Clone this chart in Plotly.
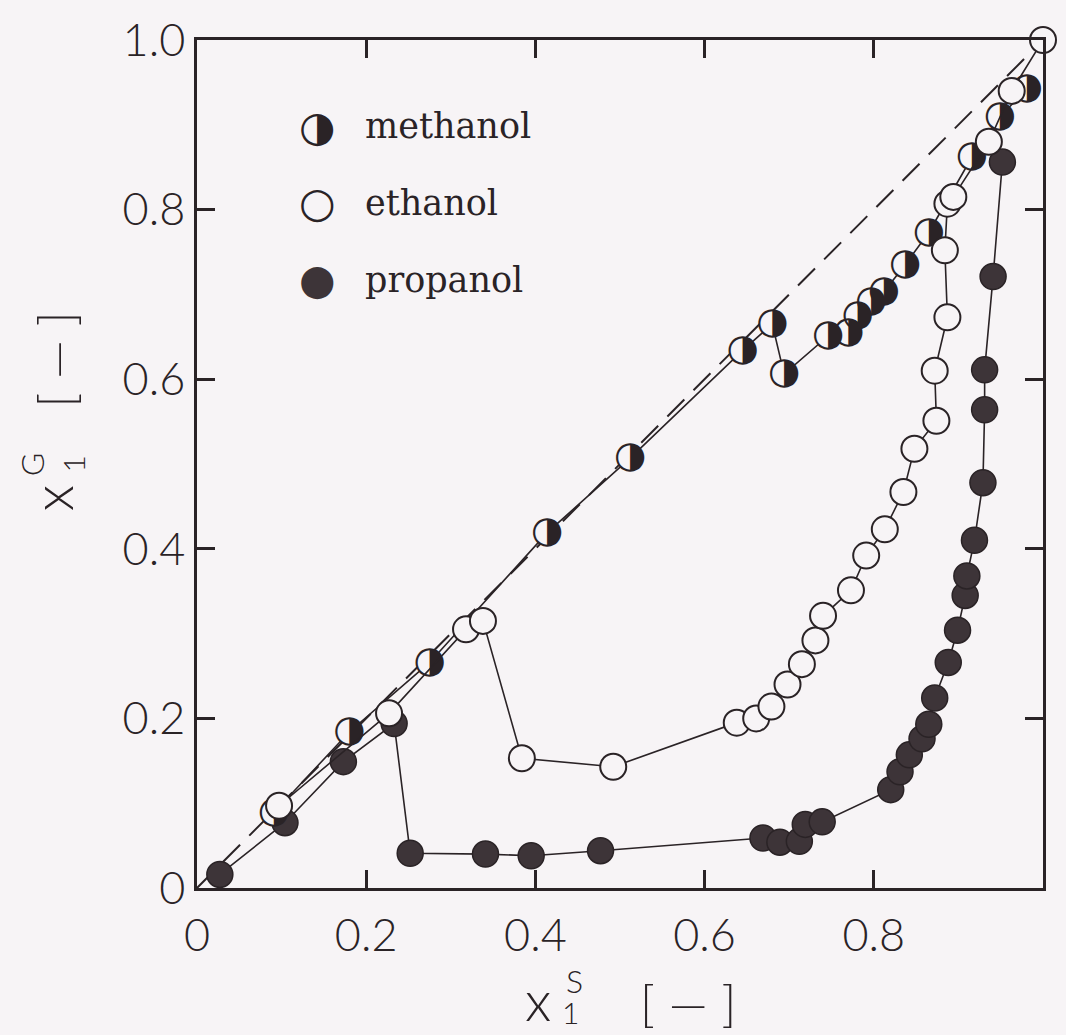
import plotly.graph_objects as go

# ---------------- data ----------------
methanol_x = [0.091, 0.180, 0.275, 0.414, 0.512, 0.645, 0.680, 0.694, 0.746, 0.770,
              0.781, 0.797, 0.812, 0.837, 0.865, 0.916, 0.949, 0.981]
methanol_y = [0.089, 0.184, 0.266, 0.419, 0.507, 0.634, 0.665, 0.606, 0.651, 0.655,
              0.675, 0.691, 0.703, 0.735, 0.773, 0.862, 0.909, 0.943]

ethanol_x = [0.097, 0.227, 0.318, 0.338, 0.384, 0.492, 0.638, 0.661, 0.679, 0.698,
             0.715, 0.731, 0.740, 0.773, 0.791, 0.813, 0.835, 0.848, 0.874, 0.872,
             0.887, 0.884, 0.887, 0.894, 0.936, 0.963, 1.000]
ethanol_y = [0.097, 0.206, 0.305, 0.315, 0.153, 0.143, 0.195, 0.200, 0.214, 0.240,
             0.264, 0.292, 0.321, 0.351, 0.392, 0.423, 0.467, 0.518, 0.551, 0.610,
             0.673, 0.752, 0.807, 0.815, 0.880, 0.940, 1.000]

propanol_x = [0.027, 0.104, 0.173, 0.233, 0.252, 0.341, 0.395, 0.477, 0.669, 0.689,
              0.712, 0.719, 0.739, 0.820, 0.831, 0.842, 0.857, 0.865, 0.872, 0.888,
              0.899, 0.908, 0.910, 0.919, 0.929, 0.931, 0.931, 0.941, 0.952]
propanol_y = [0.016, 0.077, 0.149, 0.194, 0.041, 0.040, 0.038, 0.044, 0.059, 0.054,
              0.055, 0.075, 0.078, 0.116, 0.137, 0.157, 0.176, 0.193, 0.224, 0.266,
              0.304, 0.345, 0.368, 0.410, 0.478, 0.564, 0.611, 0.721, 0.856]

diag_x = [0.0, 1.0]
diag_y = [0.0, 1.0]

tick_vals = [0, 0.2, 0.4, 0.6, 0.8, 1.0]
tick_text = ["0", "0.2", "0.4", "0.6", "0.8", "1.0"]

series_names = ["methanol", "ethanol", "propanol"]

# ---------------- style ----------------
INK = "#2a2326"
BG = "#f7f4f6"
DARK = "#3d3438"
TICKFONT = dict(family="Lato", size=45, color=INK, weight=300)

fig = go.Figure()

fig.add_trace(go.Scatter(
    x=diag_x, y=diag_y, mode="lines",
    line=dict(color=INK, width=2, dash="24px,13px"),
    cliponaxis=False, hoverinfo="skip", showlegend=False))

fig.add_trace(go.Scatter(
    x=propanol_x, y=propanol_y, mode="lines+markers", name=series_names[2],
    line=dict(color=INK, width=1.6),
    marker=dict(size=26, color=DARK, line=dict(color=INK, width=1.5)),
    cliponaxis=False, showlegend=False))

fig.add_trace(go.Scatter(
    x=methanol_x, y=methanol_y, mode="lines+markers+text", name=series_names[0],
    line=dict(color=INK, width=1.6),
    marker=dict(size=26, color=BG, line=dict(width=0)),
    text=["\u25D1"] * len(methanol_x), textposition="middle center",
    textfont=dict(family="DejaVu Sans", size=37, color=INK),
    cliponaxis=False, showlegend=False))

fig.add_trace(go.Scatter(
    x=ethanol_x, y=ethanol_y, mode="lines+markers", name=series_names[1],
    line=dict(color=INK, width=1.6),
    marker=dict(size=26, color=BG, line=dict(color=INK, width=2)),
    cliponaxis=False, showlegend=False))

axis_common = dict(
    range=[0, 1], tickvals=tick_vals, ticktext=tick_text,
    showline=True, linewidth=2.5, linecolor=INK, mirror="allticks",
    ticks="inside", ticklen=18, tickwidth=2.5, tickcolor=INK,
    showgrid=False, zeroline=False, tickfont=TICKFONT, fixedrange=True)

fig.update_xaxes(**axis_common, ticklabelstandoff=6)
fig.update_yaxes(**axis_common, ticklabelstandoff=0)

# ---------------- legend (drawn as text) ----------------
legend_symbols = ["\u25D1", "\u25CB", "\u25CF"]
legend_colors = [INK, INK, DARK]
legend_y = [0.898, 0.808, 0.717]
annots = []
for sym, col, name, ly in zip(legend_symbols, legend_colors, series_names, legend_y):
    annots.append(dict(xref="paper", yref="paper", x=0.142, y=ly, text=sym,
                       showarrow=False, xanchor="center", yanchor="middle",
                       font=dict(family="DejaVu Sans", size=42, color=col)))
    annots.append(dict(xref="paper", yref="paper", x=0.196, y=ly, text=name,
                       showarrow=False, xanchor="left", yanchor="middle",
                       font=dict(family="DejaVu Serif", size=35, color=INK)))

# ---------------- axis titles ----------------
TF = dict(family="Lato", color=INK, weight=300)
# x title
annots += [
    dict(xref="paper", yref="paper", x=0.403, y=-0.132, text="x", showarrow=False,
         xanchor="center", yanchor="middle", font=dict(size=56, **TF)),
    dict(xref="paper", yref="paper", x=0.446, y=-0.109, text="S", showarrow=False,
         xanchor="center", yanchor="middle", font=dict(size=32, **TF)),
    dict(xref="paper", yref="paper", x=0.441, y=-0.146, text="1", showarrow=False,
         xanchor="center", yanchor="middle", font=dict(size=30, **TF)),
    dict(xref="paper", yref="paper", x=0.580, y=-0.134, text="[ \u2014 ]", showarrow=False,
         xanchor="center", yanchor="middle", font=dict(size=50, **TF)),
]
# y title (rotated)
annots += [
    dict(xref="paper", yref="paper", x=-0.171, y=0.460, text="x", showarrow=False,
         textangle=-90, xanchor="center", yanchor="middle", font=dict(size=56, **TF)),
    dict(xref="paper", yref="paper", x=-0.196, y=0.500, text="G", showarrow=False,
         textangle=-90, xanchor="center", yanchor="middle", font=dict(size=32, **TF)),
    dict(xref="paper", yref="paper", x=-0.146, y=0.500, text="1", showarrow=False,
         textangle=-90, xanchor="center", yanchor="middle", font=dict(size=30, **TF)),
    dict(xref="paper", yref="paper", x=-0.168, y=0.623, text="[ \u2014 ]", showarrow=False,
         textangle=-90, xanchor="center", yanchor="middle", font=dict(size=50, **TF)),
]

fig.update_layout(
    width=1066, height=1035,
    margin=dict(l=197, r=23, t=40, b=147),
    paper_bgcolor=BG, plot_bgcolor=BG,
    annotations=annots, showlegend=False)

fig.write_html("out.html")
